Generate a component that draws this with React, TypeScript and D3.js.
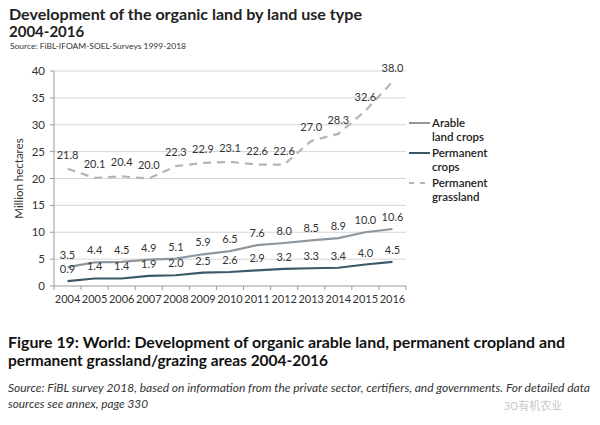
import React from "react";
import * as d3 from "d3";

const years = ["2004","2005","2006","2007","2008","2009","2010","2011","2012","2013","2014","2015","2016"];
const arable = [3.5,4.4,4.5,4.9,5.1,5.9,6.5,7.6,8.0,8.5,8.9,10.0,10.6];
const permCrops = [0.9,1.4,1.4,1.9,2.0,2.5,2.6,2.9,3.2,3.3,3.4,4.0,4.5];
const grassland = [21.8,20.1,20.4,20.0,22.3,22.9,23.1,22.6,22.6,27.0,28.3,32.6,38.0];
const yTicks = [0,5,10,15,20,25,30,35,40];
const seriesNames = ["Arable|land crops","Permanent|crops","Permanent|grassland"];

const FONT = "Lato, 'Open Sans', sans-serif";

export default function App() {
  const x = d3.scaleBand<string>().domain(years).range([54, 406]).padding(0);
  const y = d3.scaleLinear().domain([0, 40]).range([286, 71]);
  const cx = (yr: string) => (x(yr) as number) + x.bandwidth() / 2;
  const line = (vals: number[]) =>
    d3.line<number>().x((_, i) => cx(years[i])).y((v) => y(v))(vals) as string;

  const series = [
    { vals: arable, color: "#8e979e", dash: undefined, width: 2.2, labelDy: -8 },
    { vals: permCrops, color: "#3b5869", dash: undefined, width: 2.2, labelDy: -8 },
    { vals: grassland, color: "#b5b5b5", dash: "8,6", width: 2.2, labelDy: -10 },
  ];
  const legendY = [123, 153, 183];

  return (
    <svg width={600} height={425} style={{ position: "absolute", left: 0, top: 0, background: "#fff" }} fontFamily={FONT}>
      <rect width={600} height={425} fill="#fff" />
      {/* Title */}
      <text x={9} y={20} fontSize={15} fontWeight={700} fill="#222" textLength={353} lengthAdjust="spacingAndGlyphs">Development of the organic land by land use type</text>
      <text x={9} y={37} fontSize={15} fontWeight={700} fill="#222">2004-2016</text>
      <text x={10} y={49} fontSize={8} fill="#333" textLength={176} lengthAdjust="spacingAndGlyphs">Source: FiBL-IFOAM-SOEL-Surveys 1999-2018</text>

      {/* grid */}
      {yTicks.map((t) => (
        <g key={t}>
          {t > 0 && <line x1={54} x2={406} y1={y(t)} y2={y(t)} stroke="#d6d6d6" strokeWidth={1} />}
          <line x1={50} x2={54} y1={y(t)} y2={y(t)} stroke="#9a9a9a" strokeWidth={1} />
          <text x={45} y={y(t) + 4} fontSize={11.5} textAnchor="end" fill="#333">{t}</text>
        </g>
      ))}
      <line x1={54} x2={54} y1={y(40)} y2={y(0)} stroke="#9a9a9a" strokeWidth={1} />
      <line x1={54} x2={406} y1={y(0)} y2={y(0)} stroke="#9a9a9a" strokeWidth={1} />
      {years.map((yr) => (
        <line key={"t" + yr} x1={(x(yr) as number) + x.bandwidth()} x2={(x(yr) as number) + x.bandwidth()} y1={y(0)} y2={y(0) + 4} stroke="#9a9a9a" />
      ))}
      <line x1={54} x2={54} y1={y(0)} y2={y(0) + 4} stroke="#9a9a9a" />
      {years.map((yr) => (
        <text key={"x" + yr} x={cx(yr)} y={303} fontSize={11} textAnchor="middle" fill="#333">{yr}</text>
      ))}
      <text transform={`translate(23,${y(20)}) rotate(-90)`} fontSize={11.5} textAnchor="middle" fill="#333">Million hectares</text>

      {/* lines */}
      {series.map((s, si) => (
        <path key={"p" + si} d={line(s.vals)} fill="none" stroke={s.color} strokeWidth={s.width} strokeDasharray={s.dash} />
      ))}
      {series.map((s, si) =>
        s.vals.map((v, i) => (
          <text key={"l" + si + i} x={cx(years[i])} y={y(v) + s.labelDy} fontSize={11} textAnchor="middle" fill="#333">{v.toFixed(1)}</text>
        ))
      )}

      {/* legend */}
      {series.map((s, si) => {
        const [a, b] = seriesNames[si].split("|");
        return (
          <g key={"lg" + si}>
            <line x1={409} x2={430} y1={legendY[si]} y2={legendY[si]} stroke={s.color} strokeWidth={2} strokeDasharray={s.dash ? "5,6" : undefined} />
            <text x={432} y={legendY[si] + 4} fontSize={11.5} fontWeight={600} fill="#222">{a}</text>
            <text x={432} y={legendY[si] + 18} fontSize={11.5} fontWeight={600} fill="#222">{b}</text>
          </g>
        );
      })}

      {/* caption */}
      <text x={8} y={348} fontSize={15} fontWeight={700} fill="#111" textLength={557} lengthAdjust="spacingAndGlyphs">Figure 19: World: Development of organic arable land, permanent cropland and</text>
      <text x={8} y={366} fontSize={15} fontWeight={700} fill="#111" textLength={320} lengthAdjust="spacingAndGlyphs">permanent grassland/grazing areas 2004-2016</text>
      <text x={8} y={392} fontSize={11} fontStyle="italic" fill="#333" textLength={582} lengthAdjust="spacingAndGlyphs">Source: FiBL survey 2018, based on information from the private sector, certifiers, and governments. For detailed data</text>
      <text x={8} y={408} fontSize={11} fontStyle="italic" fill="#333" textLength={140} lengthAdjust="spacingAndGlyphs">sources see annex, page 330</text>
      <text x={504} y={410} fontSize={11} fill="#c8c8c8" fontFamily="'Noto Sans CJK SC', sans-serif">3O有机农业</text>
    </svg>
  );
}
